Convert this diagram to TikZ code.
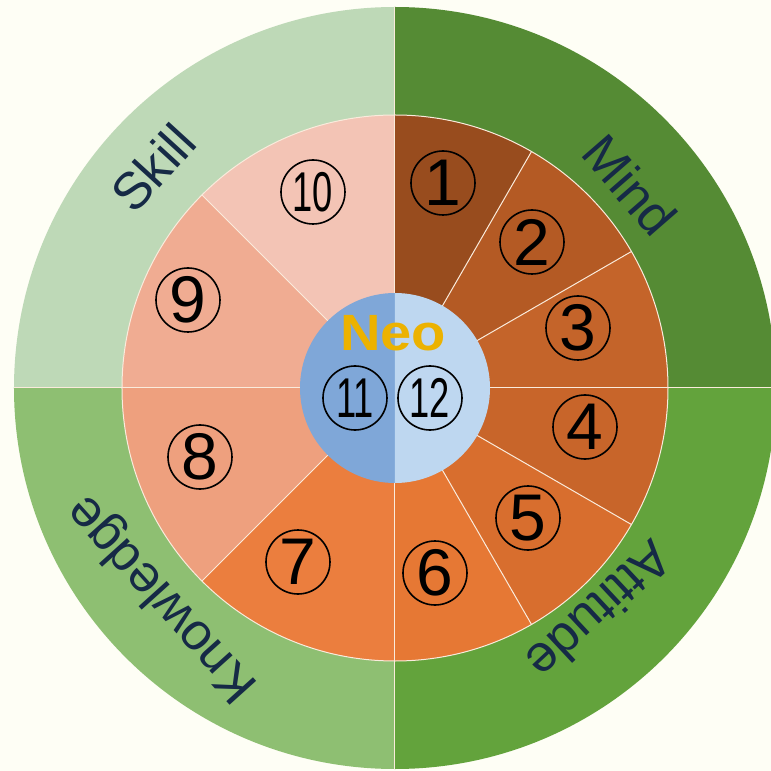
\documentclass[tikz,border=0pt]{standalone}
\usepackage{fontspec}
\usepackage{graphicx}
\setmainfont{Liberation Sans}
\definecolor{bg}{RGB}{254,254,245}
\definecolor{skill}{RGB}{190,217,183}
\definecolor{mind}{RGB}{85,139,52}
\definecolor{attitude}{RGB}{99,163,60}
\definecolor{knowledge}{RGB}{142,191,114}
\definecolor{w1}{RGB}{152,76,30}
\definecolor{w2}{RGB}{180,90,36}
\definecolor{w3}{RGB}{196,100,42}
\definecolor{w4}{RGB}{200,101,42}
\definecolor{w5}{RGB}{216,110,46}
\definecolor{w6}{RGB}{230,120,52}
\definecolor{w7}{RGB}{235,126,62}
\definecolor{w8}{RGB}{238,160,126}
\definecolor{w9}{RGB}{240,172,146}
\definecolor{w10}{RGB}{243,196,181}
\definecolor{cl}{RGB}{127,167,216}
\definecolor{cr}{RGB}{190,215,240}
\definecolor{neo}{RGB}{236,178,0}
\definecolor{labtext}{RGB}{22,42,70}
\definecolor{divc}{RGB}{250,235,220}
\tikzset{
  numc/.style={circle, draw=black, line width=1.6pt, minimum size=64pt, inner sep=0pt,
    font=\fontsize{66}{66}\selectfont},
  lab/.style={text=labtext, font=\fontsize{52}{52}\selectfont, inner sep=0pt},
  divider/.style={draw=divc, line width=1pt}
}
\newcommand{\tw}[1]{\scalebox{0.55}[0.85]{#1}}
\begin{document}
\begin{tikzpicture}[x=1pt,y=1pt]
\useasboundingbox (-395,-383) rectangle (376,388);
\clip (-395,-383) rectangle (376,388);
\fill[bg] (-395,-383) rectangle (376,388);
% outer quadrants
\fill[mind] (0,0) -- (0:381) arc[start angle=0,end angle=90,radius=381pt] -- cycle;
\fill[skill] (0,0) -- (90:381) arc[start angle=90,end angle=180,radius=381pt] -- cycle;
\fill[knowledge] (0,0) -- (180:381) arc[start angle=180,end angle=270,radius=381pt] -- cycle;
\fill[attitude] (0,0) -- (270:381) arc[start angle=270,end angle=360,radius=381pt] -- cycle;
% wedges
\foreach \a/\b/\c in {60/90/w1,30/60/w2,0/30/w3,-30/0/w4,-60/-30/w5,-90/-60/w6,225/270/w7,180/225/w8,135/180/w9,90/135/w10}{
  \fill[\c] (0,0) -- (\a:273) arc[start angle=\a,end angle=\b,radius=273pt] -- cycle;
}
\foreach \a in {60,30,-30,-60,225,135}{
  \draw[divider] (0,0) -- (\a:273);
}
\foreach \a in {0,90,180,270}{
  \draw[divider] (0,0) -- (\a:381);
}
\draw[divider] (0,0) circle[radius=273pt];
% center
\fill[cl] (0,0) -- (90:95) arc[start angle=90,end angle=270,radius=95pt] -- cycle;
\fill[cr] (0,0) -- (-90:95) arc[start angle=-90,end angle=90,radius=95pt] -- cycle;
\node[text=neo, font=\bfseries\fontsize{51}{51}\selectfont, inner sep=0pt, xscale=1.1] (neo) at (-2,55) {Neo};
% numbers
\node[numc] (n1) at (48,205) {1};
\node[numc] (n2) at (137,146) {2};
\node[numc] (n3) at (183,60) {3};
\node[numc] (n4) at (190,-39) {4};
\node[numc] (n5) at (133,-130) {5};
\node[numc] (n6) at (40,-185) {6};
\node[numc] (n7) at (-97,-174) {7};
\node[numc] (n8) at (-195,-69) {8};
\node[numc] (n9) at (-207,88) {9};
\node[numc] (n10) at (-82,196) {\tw{10}};
\node[numc] (n11) at (-40,-10) {\tw{11}};
\node[numc] (n12) at (35,-10) {\tw{12}};
% labels
\node[lab, rotate=47.6] (skill) at (-242,220) {Skill};
\node[lab, rotate=-49] (mindl) at (235,203) {Mind};
\node[lab, rotate=-137] (att) at (205,-223) {Attitude};
\node[lab, rotate=132] (know) at (-232,-210) {Knowledge};
\end{tikzpicture}
\end{document}
